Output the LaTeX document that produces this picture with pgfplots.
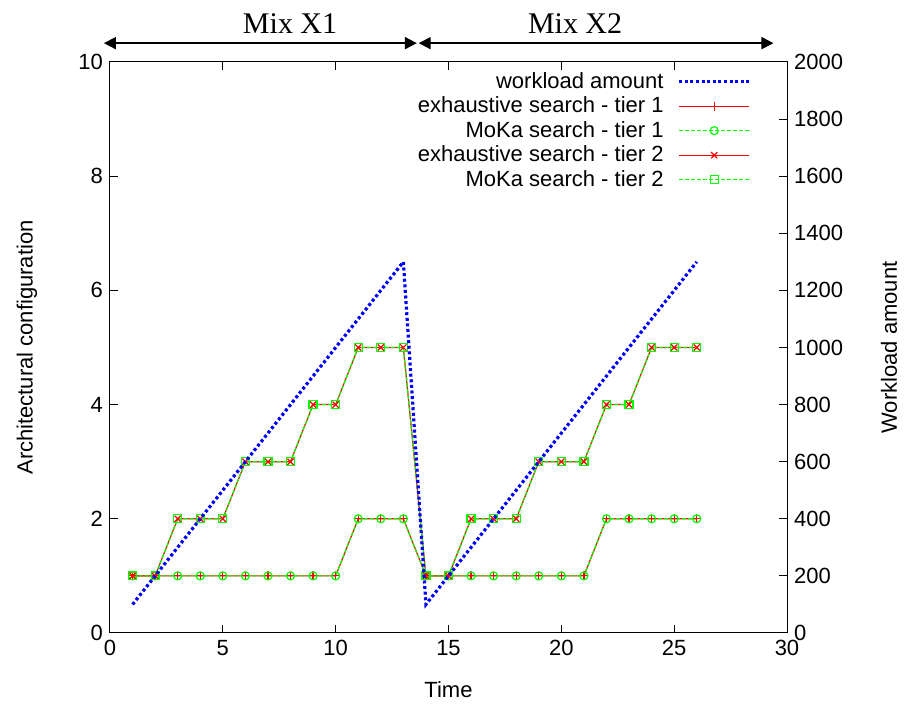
\documentclass[border=0pt]{standalone}
\usepackage{pgfplots}
\pgfplotsset{compat=1.18}
\usepackage{fontspec}
\setmainfont{Liberation Sans}
\newfontfamily\seriffont{Liberation Serif}
\usetikzlibrary{arrows.meta}

\pgfplotstableread{
x t1 t2
1 1 1
2 1 1
3 1 2
4 1 2
5 1 2
6 1 3
7 1 3
8 1 3
9 1 4
10 1 4
11 2 5
12 2 5
13 2 5
14 1 1
15 1 1
16 1 2
17 1 2
18 1 2
19 1 3
20 1 3
21 1 3
22 2 4
23 2 4
24 2 5
25 2 5
26 2 5
}\tiers

\pgfplotstableread{
x w
1 100
13 1300
14 100
26 1300
}\work

\begin{document}
\begin{tikzpicture}
\path[use as bounding box] (-55pt,-36.5pt) rectangle (397.5pt,316.5pt);
\pgfplotsset{
  common/.style={
    scale only axis, width=338.5pt, height=285.5pt,
    at={(0pt,0pt)}, anchor=south west,
    xmin=0, xmax=30,
    tick align=inside, major tick length=4pt,
    font=\fontsize{11}{13}\selectfont,
    /pgf/number format/assume math mode=true,
    /pgf/number format/1000 sep={},
    axis line style={line width=0.5pt},
    every tick/.style={black, line width=0.5pt},
  },
  wl/.style={blue, line width=1.6pt, dash pattern=on 1.5pt off 1.3pt},
  ex1/.style={color=red, draw=red, line width=0.6pt, mark=+, mark size=2.2pt},
  mk1/.style={color=green, draw=green, line width=0.6pt, dash pattern=on 2pt off 1pt, mark=o, mark size=2pt, mark options={solid}},
  ex2/.style={color=red, draw=red, line width=0.6pt, mark=x, mark size=2.2pt},
  mk2/.style={color=green, draw=green, line width=0.6pt, dash pattern=on 2pt off 1pt, mark=square, mark size=2pt, mark options={solid}},
}
\begin{axis}[common,
  ymin=0, ymax=10,
  xtick={0,5,...,30}, ytick={0,2,...,10},
  ytick pos=left,
  clip=false,
  xlabel={Time},
  ylabel={Architectural configuration},
  every axis x label/.style={at={(axis description cs:0.5,0)}, yshift=-28.5pt, anchor=center},
  every axis y label/.style={at={(axis description cs:0,0.5)}, xshift=-41.5pt, rotate=90, anchor=center},
  legend style={draw=none, fill=none, at={(rel axis cs:0.956,0.997)}, anchor=north east,
    row sep=-1.2pt, font=\fontsize{11}{13}\selectfont},
  legend cell align=right,
  legend plot pos=right,
  legend image code/.code={\path (0pt,0pt);
    \draw[#1, mark=none] (5pt,0pt) -- (40pt,0pt);
    \draw[#1, only marks] plot coordinates {(22.5pt,0pt)};},
]
\addlegendimage{wl}
\addlegendentry{workload amount}
\addplot[ex1] table[x=x,y=t1] {\tiers};
\addlegendentry{exhaustive search - tier 1}
\addplot[mk1] table[x=x,y=t1] {\tiers};
\addlegendentry{MoKa search - tier 1}
\addplot[ex2] table[x=x,y=t2] {\tiers};
\addlegendentry{exhaustive search - tier 2}
\addplot[mk2] table[x=x,y=t2] {\tiers};
\addlegendentry{MoKa search - tier 2}

\draw[{Triangle[length=6pt,width=6pt]}-{Triangle[length=6pt,width=6pt]}, line width=0.9pt] (rel axis cs:-0.009,1.033) -- (rel axis cs:0.4533,1.033);
\draw[{Triangle[length=6pt,width=6pt]}-{Triangle[length=6pt,width=6pt]}, line width=0.9pt] (rel axis cs:0.4560,1.033) -- (rel axis cs:0.980,1.033);
\node[font=\seriffont\fontsize{15}{18}\selectfont] at (rel axis cs:0.266,1.067) {Mix X1};
\node[font=\seriffont\fontsize{15}{18}\selectfont] at (rel axis cs:0.687,1.067) {Mix X2};
\end{axis}

\begin{axis}[common,
  ymin=0, ymax=2000,
  axis x line=none, axis y line*=right,
  ytick={0,200,...,2000},
  scaled y ticks=false,
  ylabel={Workload amount},
  every axis y label/.style={at={(axis description cs:1,0.5)}, xshift=51pt, rotate=90, anchor=center},
]
\addplot[wl] table[x=x,y=w] {\work};
\end{axis}
\end{tikzpicture}
\end{document}
